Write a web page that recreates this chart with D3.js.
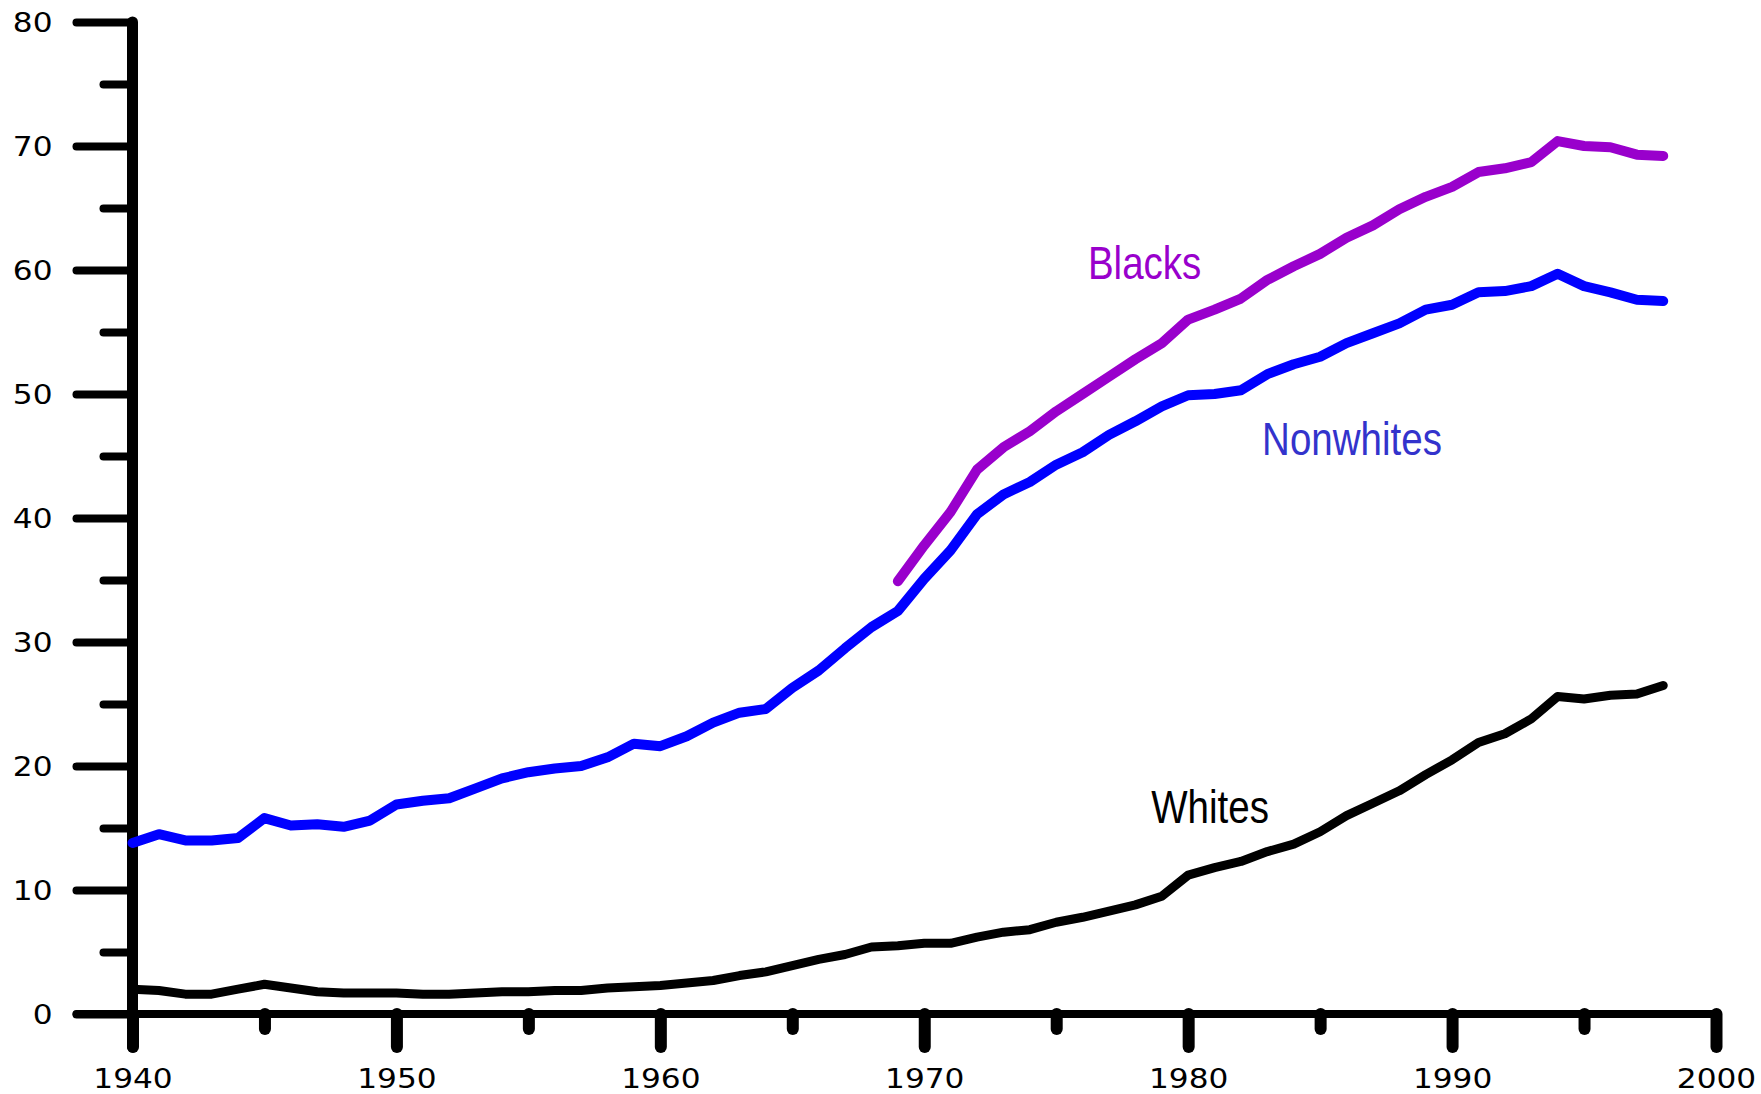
<!DOCTYPE html>
<html><head><meta charset="utf-8">
<script src="https://cdn.jsdelivr.net/npm/d3@7"></script>
<style>
html,body{margin:0;padding:0;background:#fff;}
svg{display:block;}
</style></head>
<body>
<svg id="chart" width="1761" height="1094"></svg>
<script>
const years = d3.range(1940, 1999);
const whites = [2.0,1.9,1.6,1.6,2.0,2.4,2.1,1.8,1.7,1.7,1.7,1.6,1.6,1.7,1.8,1.8,1.9,1.9,2.1,2.2,2.3,2.5,2.7,3.1,3.4,3.9,4.4,4.8,5.4,5.5,5.7,5.7,6.2,6.6,6.8,7.4,7.8,8.3,8.8,9.5,11.2,11.8,12.3,13.1,13.7,14.7,16.0,17.0,18.0,19.3,20.5,21.9,22.6,23.8,25.6,25.4,25.7,25.8,26.5];
const nonwhites = [13.8,14.5,14.0,14.0,14.2,15.8,15.2,15.3,15.1,15.6,16.9,17.2,17.4,18.2,19.0,19.5,19.8,20.0,20.7,21.8,21.6,22.4,23.5,24.3,24.6,26.3,27.7,29.5,31.2,32.5,35.1,37.4,40.3,41.9,42.9,44.3,45.3,46.7,47.8,49.0,49.9,50.0,50.3,51.6,52.4,53.0,54.1,54.9,55.7,56.8,57.2,58.2,58.3,58.7,59.7,58.7,58.2,57.6,57.5];
const blackYears = d3.range(1969, 1999);
const blacks = [34.9,37.8,40.5,43.9,45.7,47.0,48.6,50.0,51.4,52.8,54.1,56.0,56.8,57.7,59.2,60.3,61.3,62.6,63.6,64.9,65.9,66.7,67.9,68.2,68.7,70.4,70.0,69.9,69.3,69.2];
const xTicks = d3.range(1940, 2001, 5);
const yTicks = d3.range(0, 81, 5);
const seriesLabels = [
  {text:"Blacks", year:1976.2, value:59.3, color:"#9900cc"},
  {text:"Nonwhites", year:1982.8, value:45.1, color:"#3333cc"},
  {text:"Whites", year:1978.6, value:15.4, color:"#000000"}
];

const svg = d3.select("#chart");
const x = d3.scaleLinear().domain([1940, 2000]).range([132.5, 1716]);
const y = d3.scaleLinear().domain([0, 80]).range([1014, 22]);
const tickFont = "'DejaVu Sans', Verdana, sans-serif";

// Y axis
const yAxis = svg.append("g").attr("transform", `translate(${x(1940)},0)`)
  .call(d3.axisLeft(y).tickValues(yTicks).tickSizeOuter(0).tickFormat(""));
yAxis.select(".domain").remove();
yAxis.selectAll(".tick line")
  .attr("x2", d => d % 10 === 0 ? -56 : -29)
  .attr("stroke", "#000").attr("stroke-width", 8).attr("stroke-linecap", "round");
yAxis.selectAll(".tick").filter(d => d % 10 === 0).append("text")
  .attr("transform", "translate(-80,0) scale(1.2,1)")
  .text(d => d).attr("dy", "0.36em")
  .attr("text-anchor", "end").attr("fill", "#000")
  .style("font-family", tickFont).style("font-size", "26px");

// X axis
const xAxis = svg.append("g").attr("transform", `translate(0,${y(0)})`)
  .call(d3.axisBottom(x).tickValues(xTicks).tickSizeOuter(0).tickFormat(""));
xAxis.select(".domain").remove();
xAxis.append("line").attr("x1", x(1940) - 56).attr("x2", x(2000)).attr("y1", 0).attr("y2", 0)
  .attr("stroke", "#000").attr("stroke-width", 8).attr("stroke-linecap", "round");
xAxis.selectAll(".tick line")
  .attr("y2", d => d % 10 === 0 ? 33 : 15)
  .attr("stroke", "#000").attr("stroke-width", 12).attr("stroke-linecap", "round");
xAxis.selectAll(".tick").filter(d => d % 10 === 0).append("text")
  .attr("transform", "translate(0,74) scale(1.2,1)")
  .text(d => d).attr("text-anchor", "middle").attr("fill", "#000")
  .style("font-family", tickFont).style("font-size", "26px");

// Y axis spine
svg.append("line").attr("x1", x(1940)).attr("x2", x(1940)).attr("y1", y(80)).attr("y2", y(0) + 33)
  .attr("stroke", "#000").attr("stroke-width", 11).attr("stroke-linecap", "round");

const line = d3.line().x(d => x(d[0])).y(d => y(d[1]));
svg.append("path").datum(years.map((yr,i)=>[yr, whites[i]]))
  .attr("d", line).attr("fill","none").attr("stroke","#000").attr("stroke-width",9)
  .attr("stroke-linejoin","round").attr("stroke-linecap","round");
svg.append("path").datum(years.map((yr,i)=>[yr, nonwhites[i]]))
  .attr("d", line).attr("fill","none").attr("stroke","#0000ff").attr("stroke-width",10)
  .attr("stroke-linejoin","round").attr("stroke-linecap","round");
svg.append("path").datum(blackYears.map((yr,i)=>[yr, blacks[i]]))
  .attr("d", line).attr("fill","none").attr("stroke","#9900cc").attr("stroke-width",10)
  .attr("stroke-linejoin","round").attr("stroke-linecap","round");

svg.selectAll("text.series").data(seriesLabels).enter().append("text").attr("class","series")
  .attr("transform", d => `translate(${x(d.year)},${y(d.value)}) scale(0.82,1)`)
  .attr("fill", d => d.color).text(d => d.text)
  .style("font-family", "'Liberation Sans Narrow', 'Arial Narrow', 'Liberation Sans', sans-serif")
  .style("font-size", "47px");
</script>
</body></html>
